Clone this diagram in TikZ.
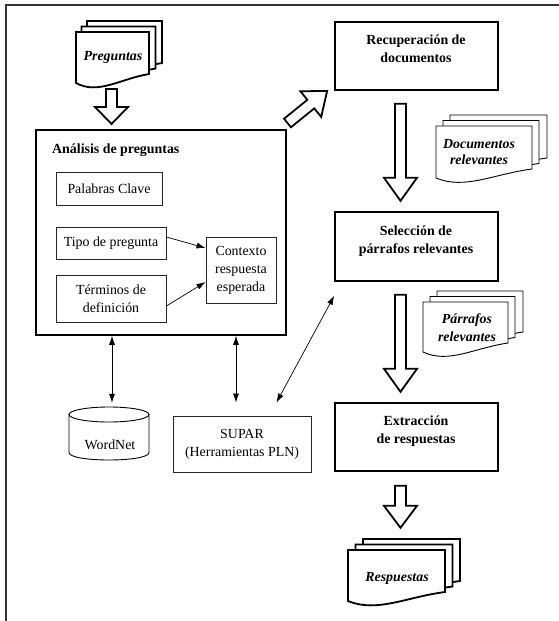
\documentclass[tikz,border=0pt]{standalone}
\usepackage{fontspec}
\setmainfont{Liberation Serif}
\usetikzlibrary{arrows.meta}
\newcommand\hollowarr[4]{% start coordinate, angle, length, head length
  \draw[harr,shift={(#1)},rotate=#2] (0,5.5) -- ({#3-#4},5.5) -- ({#3-#4},16.5) -- (#3,0)
    -- ({#3-#4},-16.5) -- ({#3-#4},-5.5) -- (0,-5.5) -- cycle;}
\newcommand\docpage[5]{% x y w h style
  \draw[#5] (#1,#2) -- ({#1+#3},#2) -- ({#1+#3},{#2+#4-9})
    .. controls ({#1+0.6*#3},{#2+#4-4}) and ({#1+0.3*#3},{#2+#4+12}) .. (#1,{#2+#4}) -- cycle;}
\tikzset{
  frame/.style={line width=1.4pt, draw=black!80},
  bigbox/.style={draw, line width=1.6pt, inner sep=0pt},
  smallbox/.style={draw=black!85, line width=0.9pt, inner sep=0pt, align=center},
  txt/.style={align=center, inner sep=0pt},
  harr/.style={draw, fill=white, line width=1.8pt, line join=miter},
  thickpage/.style={draw, fill=white, line width=1.8pt},
  thinpage/.style={draw, fill=white, line width=0.9pt},
  conn/.style={line width=0.7pt, -{Latex[length=9pt,width=6pt]}},
  dconn/.style={line width=0.7pt, {Latex[length=9pt,width=6pt]}-{Latex[length=9pt,width=6pt]}},
}
\begin{document}
\begin{tikzpicture}[x=1pt,y=-1pt,font=\fontsize{13.9}{18}\selectfont]
\useasboundingbox (0,0) rectangle (559,621);
\draw[frame] (559,5) -- (6,5) -- (6,621);

% Preguntas
\docpage{87}{21}{75}{51}{thickpage}
\docpage{81.5}{26.5}{74}{51}{thickpage}
\docpage{76}{32}{73}{51}{thickpage}
\node[txt] (preg) at (113,57) {\bfseries\itshape Preguntas};

% Analisis
\node[bigbox, minimum width=250, minimum height=205] (anal) at (161,232.5) {};
\node[txt, anchor=west] (analt) at (52,150) {\bfseries Análisis de preguntas};
\node[smallbox, minimum width=106, minimum height=33] (palabras) at (109,188.5) {Palabras Clave};
\node[smallbox, minimum width=110, minimum height=32] (tipo) at (111,243) {Tipo de pregunta};
\node[smallbox, minimum width=110, minimum height=47] (terminos) at (111,298.5) {Términos de\\definición};
\node[smallbox, minimum width=70, minimum height=66] (contexto) at (241,270) {Contexto\\respuesta\\esperada};
\draw[conn] ([yshift=6pt]tipo.east) -- ([yshift=22pt]contexto.west);
\draw[conn] ([yshift=-7.5pt]terminos.east) -- ([yshift=-12pt]contexto.west);

% WordNet cylinder
\node[minimum width=80, minimum height=53, inner sep=0pt] (wn) at (109,433.5) {};
\draw[line width=0.9pt, fill=white] (69,414.5) -- (69,452.5) .. controls (69,462.5) and (149,462.5) .. (149,452.5) -- (149,414.5);
\draw[line width=0.9pt] (109,414.5) ellipse [x radius=40, y radius=7.5];
\node[txt] (wnt) at (110,445) {WordNet};

% SUPAR
\node[smallbox, minimum width=138, minimum height=56] (supar) at (242,444) {SUPAR\\(Herramientas PLN)};

% right column
\node[bigbox, minimum width=163, minimum height=68] (rec) at (416.5,56) {};
\node[txt] (rect) at (416,49) {\bfseries Recuperación de\\\bfseries documentos};
\node[bigbox, minimum width=163, minimum height=69] (sel) at (416.5,246.5) {};
\node[txt] (selt) at (416,241) {\bfseries Selección de\\\bfseries párrafos relevantes};
\node[bigbox, minimum width=163, minimum height=68] (ext) at (416.5,437) {};
\node[txt] (extt) at (416,431) {\bfseries Extracción\\\bfseries de respuestas};

% Documentos relevantes
\docpage{450}{115}{97}{52}{thinpage}
\docpage{443}{120.5}{96}{52}{thinpage}
\docpage{436}{126}{96}{52}{thinpage}
\node[txt, font=\fontsize{13.9}{16}\selectfont] (docs) at (479,152) {\bfseries\itshape Documentos\\\bfseries\itshape relevantes};

% Parrafos relevantes
\docpage{437}{291}{86}{50}{thinpage}
\docpage{430}{296.5}{85}{50}{thinpage}
\docpage{423}{302}{85}{50}{thinpage}
\node[txt] (parr) at (467,327.5) {\bfseries\itshape Párrafos\\\bfseries\itshape relevantes};

% Respuestas
\docpage{363}{539}{97}{51}{thickpage}
\docpage{355.5}{544.5}{97}{51}{thickpage}
\docpage{348}{550}{97}{51}{thickpage}
\node[txt] (resp) at (397,578) {\bfseries\itshape Respuestas};

% hollow arrows
\coordinate (h1) at ([xshift=-1.5pt]preg.south |- 0,89);
\hollowarr{h1}{-90}{35}{17}
\coordinate (h2) at (287.5,123);
\hollowarr{h2}{39}{51}{21}
\coordinate (h3) at ([xshift=-16pt,yshift=-13pt]rec.south);
\hollowarr{h3}{-90}{97}{23}
\coordinate (h4) at ([xshift=-16pt,yshift=-13pt]sel.south);
\hollowarr{h4}{-90}{97}{23}
\coordinate (h5) at ([xshift=-16pt,yshift=-14pt]ext.south);
\hollowarr{h5}{-90}{42}{22}

% thin double arrows
\draw[dconn] ([xshift=3pt]wn.north |- anal.south) -- ([xshift=3pt,yshift=4pt]wn.north);
\draw[dconn] ([xshift=-6pt]supar.north |- anal.south) -- ([xshift=-6pt,yshift=13pt]supar.north);
\draw[dconn] ([xshift=-35pt,yshift=13pt]supar.north east) -- ([yshift=-14pt]sel.south west);
\end{tikzpicture}
\end{document}
